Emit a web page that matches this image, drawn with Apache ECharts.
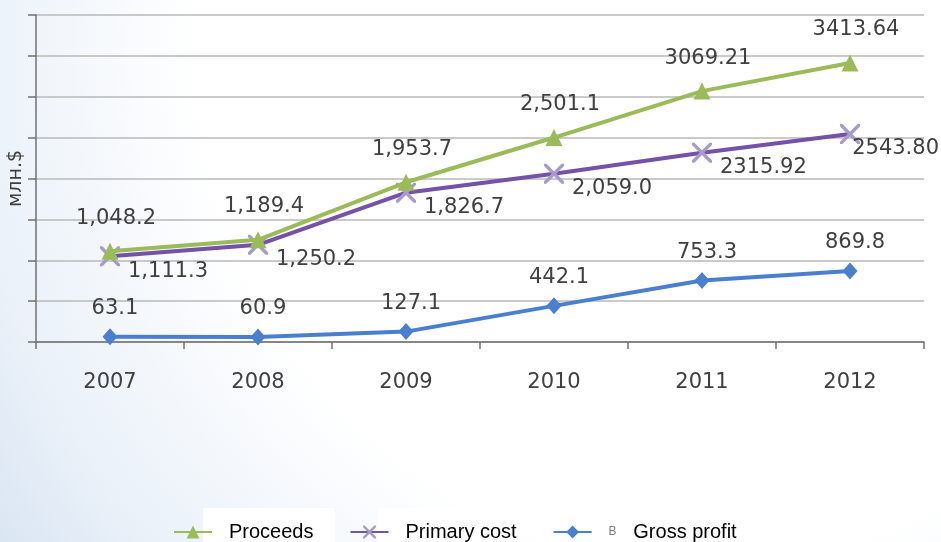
<!DOCTYPE html>
<html>
<head>
<meta charset="utf-8">
<script src="https://cdn.jsdelivr.net/npm/echarts@6/dist/echarts.min.js"></script>
<style>
html,body{margin:0;padding:0;}
#chart{width:941px;height:542px;}
</style>
</head>
<body>
<div id="chart"></div>
<script>
const years = ['2007', '2008', '2009', '2010', '2011', '2012'];
const proceeds = [1111.3, 1250.2, 1953.7, 2501.1, 3069.21, 3413.64];
const primaryCost = [1048.2, 1189.4, 1826.7, 2059.0, 2315.92, 2543.80];
const grossProfit = [63.1, 60.9, 127.1, 442.1, 753.3, 869.8];
// label texts exactly as printed in the original picture
const proceedsLabels = ['1,048.2', '1,189.4', '1,953.7', '2,501.1', '3069.21', '3413.64'];
const primaryCostLabels = ['1,111.3', '1,250.2', '1,826.7', '2,059.0', '2315.92', '2543.80'];
const grossProfitLabels = ['63.1', '60.9', '127.1', '442.1', '753.3', '869.8'];
const seriesNames = ['Proceeds', 'Primary cost', 'Gross profit'];

const crossPath = 'path://M0,0L1.2,0L10,8.8L10,10L8.8,10L0,1.2Z M8.8,0L10,0L10,1.2L1.2,10L0,10L0,8.8Z';
const labelFont = { fontFamily: 'DejaVu Sans', fontSize: 21, color: '#404040' };
const labelShift = [[6, 0], [0, 15], [5, 0]]; // per-series label nudge (styling)

const chart = echarts.init(document.getElementById('chart'));
chart.setOption({
  backgroundColor: {
    type: 'radial', x: 0.75, y: 0.1, r: 1.7,
    colorStops: [
      { offset: 0, color: '#ffffff' },
      { offset: 0.55, color: '#ffffff' },
      { offset: 0.8, color: '#eaf1f9' },
      { offset: 1, color: '#d2e0f0' }
    ]
  },
  animation: false,
  graphic: [
    { type: 'rect', shape: { x: 203, y: 508, width: 132, height: 34 }, style: { fill: '#ffffff' }, z: 0 },
    { type: 'rect', shape: { x: 378, y: 508, width: 135, height: 34 }, style: { fill: '#ffffff' }, z: 0 }
  ],
  grid: { left: 36, right: 17, top: 15, bottom: 200, outerBoundsMode: 'none', containLabel: false },
  legend: {
    data: seriesNames,
    left: 168,
    top: 517,
    itemWidth: 38,
    itemHeight: 16,
    itemGap: 36,
    textStyle: {
      fontFamily: 'Liberation Sans', fontSize: 20, color: '#000000',
      padding: [0, 0, 0, 12],
      rich: { b: { fontSize: 12, color: '#808080', fontFamily: 'Liberation Sans' } }
    },
    formatter: function (name) {
      return name === 'Gross profit' ? '{b|B}   ' + name : name;
    }
  },
  labelLayout: function (params) {
    const s = labelShift[params.seriesIndex] || [0, 0];
    const r = params.labelRect;
    let dx = s[0];
    const over = r.x + dx + r.width - 939;
    if (over > 0) dx -= over; // keep labels inside the canvas
    return { dx: dx, dy: s[1] };
  },
  xAxis: {
    type: 'category',
    data: years,
    boundaryGap: true,
    axisLine: { lineStyle: { color: '#707070', width: 1.5 } },
    axisTick: { show: true, length: 7, lineStyle: { color: '#707070', width: 1.5 } },
    axisLabel: { margin: 30, fontFamily: 'DejaVu Sans', fontSize: 21, color: '#404040' },
    splitLine: { show: false }
  },
  yAxis: {
    type: 'value',
    min: 0, max: 4000, interval: 500,
    name: 'млн.$',
    nameLocation: 'middle',
    nameGap: 10,
    nameRotate: 90,
    nameTextStyle: { fontFamily: 'DejaVu Sans', fontSize: 19, color: '#404040' },
    axisLine: { show: true, lineStyle: { color: '#707070', width: 1.5 } },
    axisTick: { show: true, length: 8, lineStyle: { color: '#707070', width: 1.5 } },
    axisLabel: { show: false },
    splitLine: { lineStyle: { color: '#b8b8b8', width: 1.6 } }
  },
  series: [
    {
      name: 'Proceeds', type: 'line', data: proceeds, z: 4,
      symbol: 'triangle', symbolSize: 17,
      lineStyle: { color: '#9bbb59', width: 4 },
      itemStyle: { color: '#9bbb59' },
      label: Object.assign({ show: true, position: 'top', distance: 14,
        formatter: p => proceedsLabels[p.dataIndex] }, labelFont)
    },
    {
      name: 'Primary cost', type: 'line', data: primaryCost, z: 3,
      symbol: crossPath, symbolSize: 20,
      lineStyle: { color: '#7352a8', width: 4 },
      itemStyle: { color: '#a79bcc' },
      label: Object.assign({ show: true, position: 'right', distance: 8,
        formatter: p => primaryCostLabels[p.dataIndex] }, labelFont)
    },
    {
      name: 'Gross profit', type: 'line', data: grossProfit, z: 2,
      symbol: 'diamond', symbolSize: [15, 17],
      lineStyle: { color: '#4a7fcf', width: 4 },
      itemStyle: { color: '#4a7fcf' },
      label: Object.assign({ show: true, position: 'top', distance: 9,
        formatter: p => grossProfitLabels[p.dataIndex] }, labelFont)
    }
  ]
});
</script>
</body>
</html>
